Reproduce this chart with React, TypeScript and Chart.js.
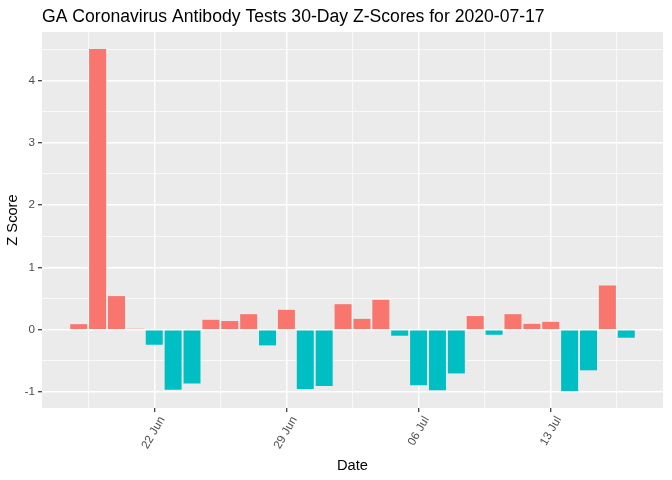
import React, { useEffect, useRef } from "react";
import { Chart, registerables } from "chart.js";

Chart.register(...registerables);

const chartTitle = "GA Coronavirus Antibody Tests 30-Day Z-Scores for 2020-07-17";
const xAxisTitle = "Date";
const yAxisTitle = "Z Score";

const dates = [
  "2020-06-18", "2020-06-19", "2020-06-20", "2020-06-21", "2020-06-22",
  "2020-06-23", "2020-06-24", "2020-06-25", "2020-06-26", "2020-06-27",
  "2020-06-28", "2020-06-29", "2020-06-30", "2020-07-01", "2020-07-02",
  "2020-07-03", "2020-07-04", "2020-07-05", "2020-07-06", "2020-07-07",
  "2020-07-08", "2020-07-09", "2020-07-10", "2020-07-11", "2020-07-12",
  "2020-07-13", "2020-07-14", "2020-07-15", "2020-07-16", "2020-07-17",
];

const zScores = [
  0.09, 4.5, 0.54, 0.016, -0.24,
  -0.96, -0.86, 0.16, 0.14, 0.25,
  -0.25, 0.32, -0.95, -0.9, 0.41,
  0.175, 0.48, -0.095, -0.89, -0.97,
  -0.7, 0.22, -0.08, 0.25, 0.095,
  0.127, -0.98, -0.65, 0.71, -0.127,
];

const xTickDates = ["2020-06-22", "2020-06-29", "2020-07-06", "2020-07-13"];
const xTickLabels = ["22 Jun", "29 Jun", "06 Jul", "13 Jul"];
const yTickValues = [-1, 0, 1, 2, 3, 4];

const POS_COLOR = "#F8766D";
const NEG_COLOR = "#00BFC4";
const FONT = '"Liberation Sans", Arial, sans-serif';

export default function App() {
  const ref = useRef<HTMLCanvasElement | null>(null);

  useEffect(() => {
    if (!ref.current) return;
    const n = dates.length;
    const xMajor = xTickDates.map((d) => dates.indexOf(d));
    const xStep = xMajor[1] - xMajor[0];
    const xMinor = [xMajor[0] - xStep / 2, ...xMajor.map((v) => v + xStep / 2)];
    const barW = 0.9;
    const xLo = -barW / 2;
    const xHi = n - 1 + barW / 2;
    const xPad = (xHi - xLo) * 0.05;
    const yLoD = Math.min(...zScores);
    const yHiD = Math.max(...zScores);
    const yPad = (yHiD - yLoD) * 0.05;
    const yMin = yLoD - yPad;
    const yMax = yHiD + yPad;
    const yMinor = yTickValues.map((v) => v + 0.5);
    const yAll = [...yTickValues, ...yMinor].filter((v) => v >= yMin && v <= yMax).sort((a, b) => a - b);
    const xAll = [...xMajor, ...xMinor].filter((v) => v >= xLo - xPad && v <= xHi + xPad).sort((a, b) => a - b);

    const isXMajor = (v: number) => xMajor.includes(v);
    const isYMajor = (v: number) => yTickValues.includes(v);

    const bgPlugin = {
      id: "panelBg",
      beforeDraw(chart: any) {
        const { ctx, chartArea } = chart;
        ctx.save();
        ctx.fillStyle = "#EBEBEB";
        ctx.fillRect(chartArea.left, chartArea.top, chartArea.right - chartArea.left, chartArea.bottom - chartArea.top);
        ctx.restore();
      },
      afterDraw(chart: any) {
        const { ctx, chartArea } = chart;
        ctx.save();
        ctx.fillStyle = "#000000";
        ctx.font = `17.6px ${FONT}`;
        ctx.textBaseline = "alphabetic";
        ctx.textAlign = "left";
        ctx.fillText(chartTitle, chartArea.left, 22);
        ctx.restore();
      },
    };

    const chart = new Chart(ref.current, {
      type: "bar",
      data: {
        datasets: [
          {
            data: zScores.map((y, i) => ({ x: i, y })),
            backgroundColor: zScores.map((v) => (v >= 0 ? POS_COLOR : NEG_COLOR)),
            borderWidth: 0,
            barPercentage: barW,
            categoryPercentage: 1,
          },
        ],
      },
      options: {
        animation: false,
        responsive: false,
        maintainAspectRatio: false,
        layout: { padding: { top: 32, right: 9, left: 0, bottom: 0 } },
        plugins: { legend: { display: false }, tooltip: { enabled: false }, title: { display: false } },
        scales: {
          x: {
            type: "linear",
            offset: false,
            min: xLo - xPad,
            max: xHi + xPad,
            afterBuildTicks: (scale: any) => {
              scale.ticks = xAll.map((v) => ({ value: v }));
            },
            afterFit: (scale: any) => {
              scale.height = 72;
            },
            ticks: {
              autoSkip: false,
              minRotation: 60,
              maxRotation: 60,
              padding: 2,
              labelOffset: 8,
              color: "#4D4D4D",
              font: { family: FONT, size: 11.7 },
              callback: (v: any) => {
                const idx = xMajor.indexOf(Number(v));
                return idx >= 0 ? xTickLabels[idx] : "";
              },
            },
            grid: {
              offset: false,
              color: "#FFFFFF",
              lineWidth: (c: any) => (c.tick && isXMajor(c.tick.value) ? 1.42 : 0.71),
              tickColor: (c: any) => (c.tick && isXMajor(c.tick.value) ? "#333333" : "rgba(0,0,0,0)"),
              tickLength: 4,
              tickWidth: 1.2,
            },
            border: { display: false },
            title: {
              display: true,
              text: xAxisTitle,
              color: "#000000",
              font: { family: FONT, size: 14.67 },
              padding: { top: 0, bottom: 5 },
            },
          },
          y: {
            type: "linear",
            min: yMin,
            max: yMax,
            afterBuildTicks: (scale: any) => {
              scale.ticks = yAll.map((v) => ({ value: v }));
            },
            afterFit: (scale: any) => {
              scale.width = 42;
            },
            ticks: {
              autoSkip: false,
              padding: 3,
              color: "#4D4D4D",
              font: { family: FONT, size: 11.7 },
              callback: (v: any) => (isYMajor(Number(v)) ? String(v) : ""),
            },
            grid: {
              color: "#FFFFFF",
              lineWidth: (c: any) => (c.tick && isYMajor(c.tick.value) ? 1.42 : 0.71),
              tickColor: (c: any) => (c.tick && isYMajor(c.tick.value) ? "#333333" : "rgba(0,0,0,0)"),
              tickLength: 4,
              tickWidth: 1.2,
            },
            border: { display: false },
            title: {
              display: true,
              text: yAxisTitle,
              color: "#000000",
              font: { family: FONT, size: 14.67 },
              padding: { top: 4, bottom: 0 },
            },
          },
        },
      },
      plugins: [bgPlugin],
    } as any);

    return () => chart.destroy();
  }, []);

  return (
    <div style={{ position: "fixed", left: 0, top: 0, width: 672, height: 480, background: "#FFFFFF" }}>
      <canvas ref={ref} width={672} height={480} />
    </div>
  );
}
